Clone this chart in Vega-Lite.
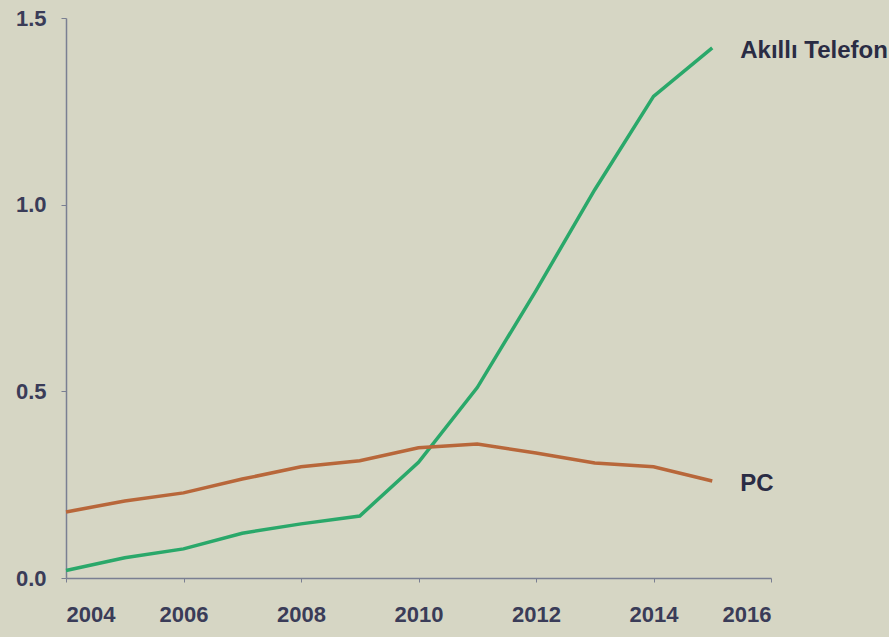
{
  "$schema": "https://vega.github.io/schema/vega-lite/v6.json",
  "width": 705,
  "height": 560,
  "autosize": {"type": "none"},
  "padding": {"left": 66, "top": 18, "right": 118, "bottom": 59},
  "background": "#d6d6c4",
  "config": {
    "view": {"stroke": null},
    "axis": {
      "grid": false,
      "domainColor": "#7a7f92",
      "domainWidth": 1.5,
      "tickColor": "#7a7f92",
      "labelFont": "Liberation Sans",
      "labelFontSize": 22,
      "labelFontWeight": "bold",
      "labelColor": "#3a3c58",
      "title": null
    }
  },
  "data": {
    "values": [
      {"year": 2004, "series": "Akıllı Telefon", "value": 0.02},
      {"year": 2005, "series": "Akıllı Telefon", "value": 0.054},
      {"year": 2006, "series": "Akıllı Telefon", "value": 0.078},
      {"year": 2007, "series": "Akıllı Telefon", "value": 0.12},
      {"year": 2008, "series": "Akıllı Telefon", "value": 0.145},
      {"year": 2009, "series": "Akıllı Telefon", "value": 0.166},
      {"year": 2010, "series": "Akıllı Telefon", "value": 0.31},
      {"year": 2011, "series": "Akıllı Telefon", "value": 0.51},
      {"year": 2012, "series": "Akıllı Telefon", "value": 0.77},
      {"year": 2013, "series": "Akıllı Telefon", "value": 1.04},
      {"year": 2014, "series": "Akıllı Telefon", "value": 1.29},
      {"year": 2015, "series": "Akıllı Telefon", "value": 1.42},
      {"year": 2004, "series": "PC", "value": 0.177},
      {"year": 2005, "series": "PC", "value": 0.206},
      {"year": 2006, "series": "PC", "value": 0.228},
      {"year": 2007, "series": "PC", "value": 0.265},
      {"year": 2008, "series": "PC", "value": 0.298},
      {"year": 2009, "series": "PC", "value": 0.314},
      {"year": 2010, "series": "PC", "value": 0.349},
      {"year": 2011, "series": "PC", "value": 0.359},
      {"year": 2012, "series": "PC", "value": 0.335},
      {"year": 2013, "series": "PC", "value": 0.308},
      {"year": 2014, "series": "PC", "value": 0.298},
      {"year": 2015, "series": "PC", "value": 0.26}
    ]
  },
  "encoding": {
    "x": {
      "field": "year",
      "type": "quantitative",
      "scale": {"domain": [2004, 2016], "nice": false, "zero": false},
      "axis": {"values": [2004, 2006, 2008, 2010, 2012, 2014, 2016], "format": "d", "tickSize": 4, "labelPadding": 22}
    },
    "y": {
      "field": "value",
      "type": "quantitative",
      "scale": {"domain": [0, 1.5], "nice": false},
      "axis": {"values": [0, 0.5, 1.0, 1.5], "format": ".1f", "tickSize": 5, "labelPadding": 15}
    },
    "color": {
      "field": "series",
      "type": "nominal",
      "scale": {"domain": ["Akıllı Telefon", "PC"], "range": ["#2aa86a", "#b8673a"]},
      "legend": null
    }
  },
  "layer": [
    {"mark": {"type": "line", "strokeWidth": 3.5}},
    {
      "transform": [{"filter": "datum.year == 2015"}],
      "mark": {"type": "text", "align": "left", "baseline": "middle", "dx": 28, "dy": 3, "font": "Liberation Sans", "fontSize": 24, "fontWeight": "bold", "color": "#2a2c44"},
      "encoding": {
        "text": {"field": "series"},
        "color": {"value": "#2a2c44"}
      }
    }
  ]
}
